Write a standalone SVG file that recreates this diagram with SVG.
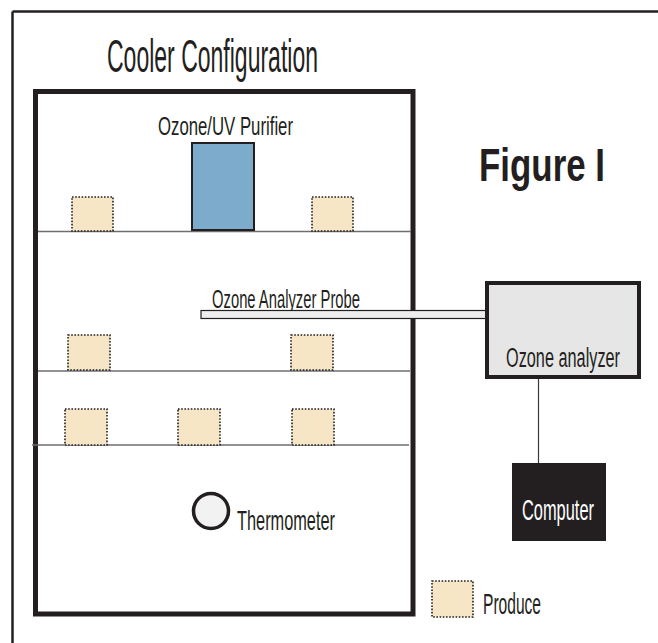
<svg xmlns="http://www.w3.org/2000/svg" width="658" height="643" viewBox="0 0 658 643">
  <style>
    .txt { font-family: "Liberation Sans", Arial, sans-serif; fill: #231f20; }
    .produce { fill: #f6e6c5; stroke: #231f20; stroke-width: 1.6; stroke-dasharray: 1.6 1.6; }
    .shelf { stroke: #6e6e6e; stroke-width: 1.6; fill: none; }
    .wall { fill: none; stroke: #231f20; stroke-width: 5; }
  </style>

  <rect width="658" height="643" fill="#ffffff"/>

  <!-- page frame (top and left edges) -->
  <g id="frame">
    <line x1="12.5" y1="11.5" x2="658" y2="11.5" stroke="#231f20" stroke-width="2.5"/>
    <line x1="12.5" y1="11.5" x2="12.5" y2="643" stroke="#231f20" stroke-width="2.5"/>
  </g>

  <g id="title">
    <text class="txt" x="107" y="72" font-size="46" textLength="211" lengthAdjust="spacingAndGlyphs">Cooler Configuration</text>
  </g>

  <g id="figure-label">
    <text class="txt" x="479" y="181" font-size="47" font-weight="bold" textLength="126" lengthAdjust="spacingAndGlyphs">Figure I</text>
  </g>

  <!-- cooler enclosure -->
  <g id="cooler">
    <rect class="wall" x="35.5" y="91.5" width="377.5" height="522.5"/>
  </g>

  <!-- shelves -->
  <g id="shelves">
    <line class="shelf" x1="38" y1="231.5" x2="411" y2="231.5"/>
    <line class="shelf" x1="38" y1="371" x2="410" y2="371"/>
    <line class="shelf" x1="32" y1="445" x2="409" y2="445"/>
  </g>

  <g id="purifier">
    <text class="txt" x="158" y="135" font-size="25.5" textLength="135" lengthAdjust="spacingAndGlyphs">Ozone/UV Purifier</text>
    <rect x="192" y="143" width="62" height="87" fill="#7dabcb" stroke="#231f20" stroke-width="2"/>
  </g>

  <!-- produce on shelves -->
  <g id="produce-items">
    <rect class="produce" x="72" y="197" width="41" height="34"/>
    <rect class="produce" x="312" y="197" width="41" height="34"/>
    <rect class="produce" x="68" y="335" width="42" height="35"/>
    <rect class="produce" x="291" y="335" width="42" height="35"/>
    <rect class="produce" x="65" y="409" width="42" height="36"/>
    <rect class="produce" x="178" y="409" width="42" height="36"/>
    <rect class="produce" x="292" y="409" width="42" height="36"/>
  </g>

  <g id="thermometer">
    <circle cx="211" cy="511" r="17.5" fill="#f2f2f2" stroke="#231f20" stroke-width="3.5"/>
    <text class="txt" x="237" y="530" font-size="28.5" textLength="98" lengthAdjust="spacingAndGlyphs">Thermometer</text>
  </g>

  <g id="probe">
    <text class="txt" x="212" y="308" font-size="26" textLength="148" lengthAdjust="spacingAndGlyphs">Ozone Analyzer Probe</text>
    <rect x="201" y="310.5" width="286" height="8" fill="#ededed" stroke="#231f20" stroke-width="1.2"/>
  </g>

  <g id="ozone-analyzer">
    <rect x="487" y="283" width="152" height="94" fill="#e6e6e6" stroke="#231f20" stroke-width="4"/>
    <text class="txt" x="506" y="367" font-size="27" textLength="114" lengthAdjust="spacingAndGlyphs">Ozone analyzer</text>
  </g>

  <g id="computer">
    <rect x="512" y="463" width="94" height="78" fill="#231f20"/>
    <text class="txt" x="522" y="520" font-size="29" fill="#ffffff" style="fill:#ffffff" textLength="72" lengthAdjust="spacingAndGlyphs">Computer</text>
  </g>

  <g id="connectors">
    <line x1="538.5" y1="379" x2="538.5" y2="463" stroke="#3a3a3a" stroke-width="1.2"/>
  </g>

  <g id="legend">
    <rect class="produce" x="432" y="581" width="41" height="36"/>
    <text class="txt" x="483" y="614" font-size="29" textLength="58" lengthAdjust="spacingAndGlyphs">Produce</text>
  </g>
</svg>
